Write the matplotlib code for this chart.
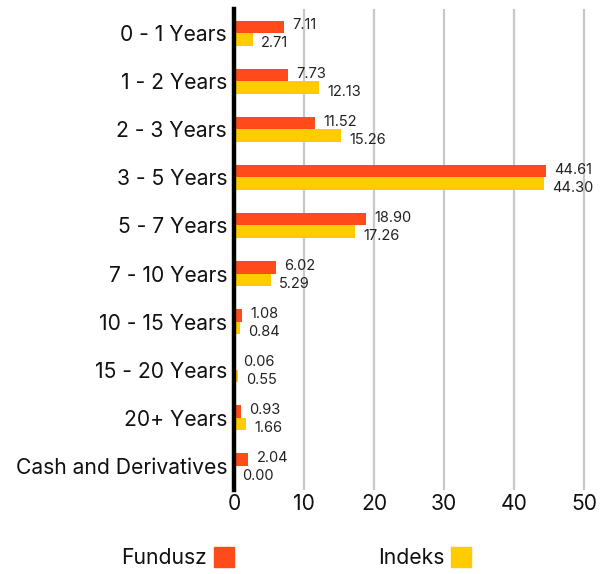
import matplotlib
matplotlib.use("Agg")
import matplotlib.pyplot as plt
import numpy as np
from matplotlib.patches import Rectangle

categories = ["0 - 1 Years", "1 - 2 Years", "2 - 3 Years", "3 - 5 Years", "5 - 7 Years",
              "7 - 10 Years", "10 - 15 Years", "15 - 20 Years", "20+ Years", "Cash and Derivatives"]
fundusz = [7.11, 7.73, 11.52, 44.61, 18.90, 6.02, 1.08, 0.06, 0.93, 2.04]
indeks = [2.71, 12.13, 15.26, 44.30, 17.26, 5.29, 0.84, 0.55, 1.66, 0.00]
series_names = ["Fundusz", "Indeks"]
xticks = [0, 10, 20, 30, 40, 50]

c_f = "#FF4A1A"
c_i = "#FFCC00"
font = "Inter"
fs = 15.2

fig = plt.figure(figsize=(6.08, 5.74), dpi=100)
ax = fig.add_axes([234/608, 1-490/574, 357/608, 481/574])

n = len(categories)
y = np.arange(n)
h = 0.26
ax.barh(y - h/2, fundusz, height=h, color=c_f, zorder=3)
ax.barh(y + h/2, indeks, height=h, color=c_i, zorder=3)
ax.set_ylim(n - 0.5, -0.5)
ax.set_xlim(0, 51)

for i in range(n):
    ax.annotate(f"{fundusz[i]:.2f}", (fundusz[i], y[i] - h/2), xytext=(6, 1), textcoords="offset points",
                ha="left", va="center", fontsize=10.5, family=font, color="#222222")
    ax.annotate(f"{indeks[i]:.2f}", (indeks[i], y[i] + h/2), xytext=(6, -3), textcoords="offset points",
                ha="left", va="center", fontsize=10.5, family=font, color="#222222")

ax.set_yticks(y)
ax.set_yticklabels(categories, fontsize=fs, family=font, color="#111111")
ax.set_xticks(xticks)
ax.set_xticklabels([str(t) for t in xticks], fontsize=fs, family=font, color="#111111")
ax.tick_params(axis="both", length=0, pad=3)
ax.tick_params(axis="y", pad=5)

for s in ["top", "right", "bottom"]:
    ax.spines[s].set_visible(False)
ax.spines["left"].set_linewidth(3.2)
ax.spines["left"].set_color("black")
ax.spines["left"].set_zorder(5)
ax.grid(axis="x", color="#c8c8c8", linewidth=1.6, zorder=0)
ax.set_axisbelow(True)

# legend
fig.text(207/608, 1-558/574, series_names[0], ha="right", va="center", fontsize=fs, family=font, color="#111111")
fig.patches.append(Rectangle((214/608, 1-567/574), 20/608, 20/574, transform=fig.transFigure, color=c_f, figure=fig))
fig.text(444/608, 1-558/574, series_names[1], ha="right", va="center", fontsize=fs, family=font, color="#111111")
fig.patches.append(Rectangle((451/608, 1-567/574), 20/608, 20/574, transform=fig.transFigure, color=c_i, figure=fig))

fig.savefig("out.png", dpi=100)
